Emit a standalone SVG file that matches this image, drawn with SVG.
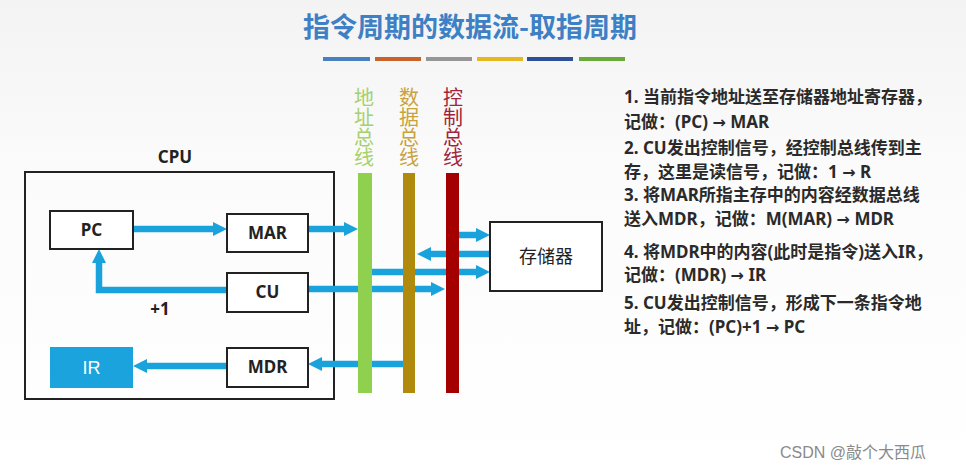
<svg xmlns="http://www.w3.org/2000/svg" width="966" height="471" viewBox="0 0 966 471">
<defs>
<linearGradient id="bg" x1="0" y1="0" x2="0" y2="1">
<stop offset="0" stop-color="#f3f3f3"/>
<stop offset="0.35" stop-color="#fbfbfb"/>
<stop offset="1" stop-color="#ffffff"/>
</linearGradient>
<marker id="ah" markerUnits="userSpaceOnUse" viewBox="0 0 14 14" markerWidth="14" markerHeight="14" refX="1" refY="7" orient="auto">
<path d="M0,0 L14,7 L0,14 z" fill="#19a2dc"/>
</marker>
<style>
.box{fill:#ffffff;stroke:#222;stroke-width:2}
.lbl{font-family:"Noto Sans","Liberation Sans","Noto Sans CJK SC",sans-serif;font-size:17px;font-weight:bold;fill:#222;text-anchor:middle}
.con{fill:none;stroke:#19a2dc;stroke-width:6.5;marker-end:url(#ah)}
.bl{font-family:"Noto Sans CJK SC",sans-serif;font-size:20px;writing-mode:vertical-rl;glyph-orientation-vertical:0}
.note{font-family:"Noto Sans","Liberation Sans","Noto Sans CJK SC",sans-serif;font-size:17px;font-weight:bold;fill:#2a2a2a}
.ar{font-family:"DejaVu Sans",sans-serif;font-weight:bold;font-size:16px}
</style>
</defs>
<rect x="0" y="0" width="966" height="471" fill="url(#bg)"/>
<g id="title">
<text x="470" y="37" font-family="Noto Sans CJK SC, sans-serif" font-size="27" font-weight="bold" fill="#3d80c6" text-anchor="middle">指令周期的数据流-取指周期</text>
<rect x="323" y="57" width="47" height="4" fill="#4a80c0"/>
<rect x="375" y="57" width="46" height="4" fill="#c8642a"/>
<rect x="426" y="57" width="46" height="4" fill="#969696"/>
<rect x="477" y="57" width="46" height="4" fill="#e6b820"/>
<rect x="527" y="57" width="46" height="4" fill="#2e4f9a"/>
<rect x="579" y="57" width="46" height="4" fill="#6aaa3a"/>
</g>
<g id="cpu">
<rect x="25" y="172" width="309" height="227" fill="none" stroke="#222" stroke-width="2"/>
<text class="lbl" x="175" y="163">CPU</text>
</g>
<g id="connectors">
<path class="con" d="M133,229 H214"/>
<path class="con" d="M227,290 H99 V262"/>
<path class="con" d="M227,366 H146"/>
<path class="con" d="M308,229 H345"/>
<path class="con" d="M459,235 H477"/>
<path class="con" d="M490,254 H430"/>
<path class="con" d="M364,272 H477"/>
<path class="con" d="M308,289 H432"/>
<path class="con" d="M409,364 H321"/>
</g>
<g id="pc"><rect class="box" x="50" y="211" width="83" height="38"/><text class="lbl" x="91.5" y="236">PC</text></g>
<g id="mar"><rect class="box" x="227" y="214" width="81" height="38"/><text class="lbl" x="267.5" y="239">MAR</text></g>
<g id="cu"><rect class="box" x="227" y="273" width="81" height="39"/><text class="lbl" x="267.5" y="298">CU</text></g>
<g id="mdr"><rect class="box" x="227" y="348" width="81" height="39"/><text class="lbl" x="267.5" y="373">MDR</text></g>
<g id="ir"><rect x="50" y="347" width="83" height="41" fill="#1aa3dd"/><text x="91.5" y="374" font-family="'Liberation Sans', sans-serif" font-size="18" fill="#ffffff" text-anchor="middle">IR</text></g>
<g id="plus1"><text class="lbl" x="160" y="315">+1</text></g>
<g id="address-bus">
<rect x="358" y="173" width="14" height="220" fill="#8fd14f"/>
<text class="bl" x="364" y="87" fill="#a6d16a">地址总线</text>
</g>
<g id="data-bus">
<rect x="403" y="173" width="12" height="220" fill="#b08a0c"/>
<text class="bl" x="409" y="87" fill="#c9a23c">数据总线</text>
</g>
<g id="control-bus">
<rect x="446" y="173" width="13" height="220" fill="#a50000"/>
<text class="bl" x="453" y="87" fill="#a3243a">控制总线</text>
</g>
<g id="memory"><rect class="box" x="490" y="222" width="112" height="69"/><text x="546" y="263" font-family="Noto Sans CJK SC, sans-serif" font-size="18" fill="#222" text-anchor="middle">存储器</text></g>
<g id="notes">
<text class="note" x="624" y="103">1. 当前指令地址送至存储器地址寄存器，</text>
<text class="note" x="624" y="128">记做：(PC) <tspan class="ar">→</tspan> MAR</text>
<text class="note" x="624" y="154">2. CU发出控制信号，经控制总线传到主</text>
<text class="note" x="624" y="178">存，这里是读信号，记做：1 <tspan class="ar">→</tspan> R</text>
<text class="note" x="624" y="201">3. 将MAR所指主存中的内容经数据总线</text>
<text class="note" x="624" y="225">送入MDR，记做：M(MAR) <tspan class="ar">→</tspan> MDR</text>
<text class="note" x="624" y="258">4. 将MDR中的内容(此时是指令)送入IR，</text>
<text class="note" x="624" y="281">记做：(MDR) <tspan class="ar">→</tspan> IR</text>
<text class="note" x="624" y="309">5. CU发出控制信号，形成下一条指令地</text>
<text class="note" x="624" y="333">址，记做：(PC)+1 <tspan class="ar">→</tspan> PC</text>
</g>
<text x="780" y="458" font-family="Liberation Sans, Noto Sans CJK SC, sans-serif" font-size="16" fill="#8a8a8a">CSDN @敲个大西瓜</text>
</svg>
